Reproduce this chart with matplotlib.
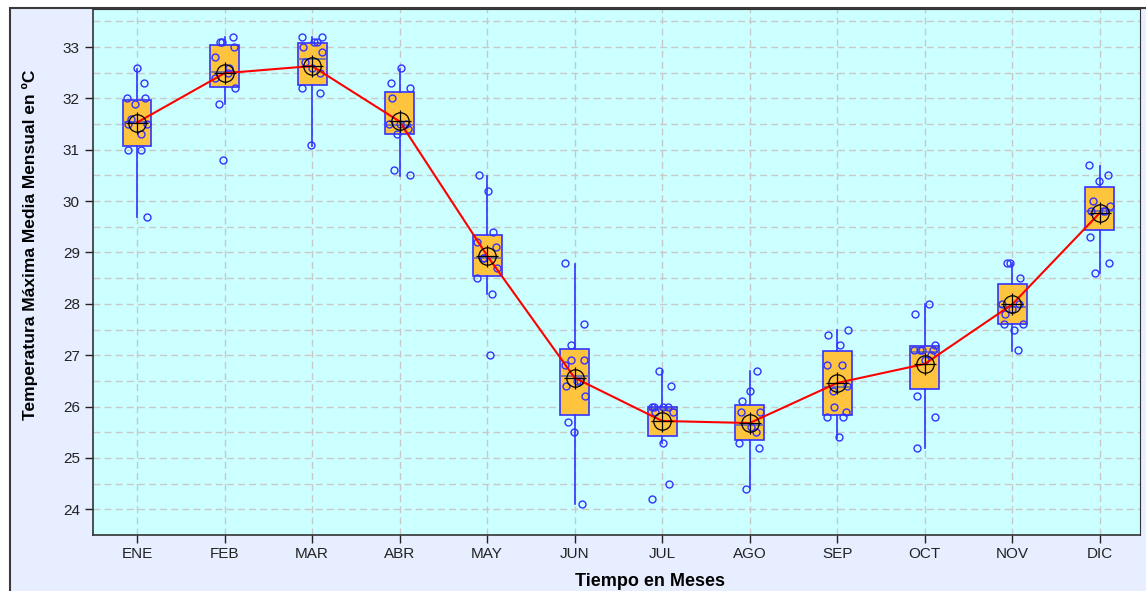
import numpy as np
from matplotlib import pyplot as plt
from matplotlib.patches import Rectangle

plt.rcParams['font.family'] = ['Liberation Sans', 'DejaVu Sans']

# months
meses = ['ENE', 'FEB', 'MAR', 'ABR', 'MAY', 'JUN', 'JUL', 'AGO', 'SEP', 'OCT', 'NOV', 'DIC']

# box statistics
q1 = [31.07, 32.23, 32.26, 31.31, 28.54, 25.83, 25.43, 25.35, 25.83, 26.35, 27.60, 29.43]
med = [31.54, 32.51, 32.77, 31.49, 28.89, 26.60, 25.95, 25.64, 26.39, 27.06, 27.94, 29.80]
q3 = [31.97, 33.04, 33.07, 32.12, 29.34, 27.12, 25.99, 26.04, 27.09, 27.17, 28.39, 30.28]
whislo = [29.70, 31.89, 31.07, 30.49, 28.20, 24.10, 25.30, 24.41, 25.39, 25.19, 27.09, 28.60]
whishi = [32.57, 33.19, 33.20, 32.57, 30.48, 28.78, 26.70, 26.70, 27.49, 28.00, 28.79, 30.68]
media = [31.53, 32.49, 32.63, 31.55, 28.94, 26.56, 25.72, 25.68, 26.46, 26.83, 27.99, 29.77]

# yearly observations
obs = [
    [32.6, 32.3, 32.0, 32.0, 31.9, 31.6, 31.5, 31.5, 31.3, 31.0, 31.0, 29.7],
    [33.2, 33.1, 33.1, 33.0, 32.8, 32.6, 32.5, 32.4, 32.2, 31.9, 30.8],
    [33.2, 33.2, 33.1, 33.1, 33.0, 32.9, 32.7, 32.6, 32.5, 32.2, 32.1, 31.1],
    [32.6, 32.3, 32.2, 32.0, 31.5, 31.5, 31.5, 31.4, 31.3, 30.6, 30.5],
    [30.5, 30.2, 29.4, 29.2, 29.1, 28.9, 28.9, 28.7, 28.5, 28.2, 27.0],
    [28.8, 27.6, 27.2, 26.9, 26.9, 26.8, 26.5, 26.5, 26.4, 26.2, 25.7, 25.5, 24.1],
    [26.7, 26.4, 26.0, 26.0, 26.0, 26.0, 25.9, 25.9, 25.3, 24.5, 24.2],
    [26.7, 26.3, 26.1, 25.9, 25.9, 25.6, 25.5, 25.3, 25.2, 24.4],
    [27.5, 27.4, 27.2, 26.8, 26.8, 26.4, 26.3, 26.0, 25.9, 25.8, 25.8, 25.4],
    [28.0, 27.8, 27.2, 27.1, 27.1, 27.1, 27.1, 27.0, 26.9, 26.2, 25.8, 25.2],
    [28.8, 28.8, 28.5, 28.0, 28.0, 27.9, 27.8, 27.6, 27.6, 27.5, 27.1],
    [30.7, 30.5, 30.4, 30.0, 29.9, 29.8, 29.8, 29.8, 29.3, 28.8, 28.6],
]

W, H = 1146, 591
fig = plt.figure(figsize=(W / 100, H / 100), dpi=100, facecolor='white')

# lavender panel with dark frame
fig.patches.append(Rectangle((10 / W, -0.05), 1.1, (H - 8) / H + 0.05,
                             transform=fig.transFigure, facecolor='#e6eeff',
                             edgecolor='#3a3a3a', linewidth=1.5, zorder=-10))

ax = fig.add_axes([93 / W, (H - 535) / H, (1140 - 93) / W, (535 - 9) / H])
ax.set_facecolor('#ccffff')

x = np.arange(1, len(meses) + 1)

stats = []
for i in range(len(meses)):
    stats.append(dict(q1=q1[i], med=med[i], q3=q3[i], whislo=whislo[i],
                      whishi=whishi[i], fliers=[]))
ax.bxp(stats, positions=x, widths=0.33, patch_artist=True, showcaps=False,
       boxprops=dict(facecolor='#ffc43d', edgecolor='#3333ff', linewidth=1.2),
       whiskerprops=dict(color='#3333ff', linewidth=1.2),
       medianprops=dict(color='#6a6aa8', linewidth=1.2),
       manage_ticks=False, zorder=3)

# observations, spread sideways a little
for i, vals in enumerate(obs):
    n = len(vals)
    jit = 0.12 * np.sin(np.arange(n) * 2.4 + i)
    ax.plot(x[i] + jit, vals, 'o', ms=5, mfc='none', mec='#3333ff', mew=1.0, zorder=4)

ax.plot(x, media, color='red', lw=1.5, zorder=5)
ax.plot(x, media, 'o', ms=12.5, mfc='none', mec='black', mew=0.9, zorder=6)
ax.plot(x, media, '+', ms=16, mec='black', mew=0.9, zorder=6)

ax.set_xlim(0.497, 12.46)
ax.set_ylim(23.55, 33.74)
ax.set_xticks(x)
ax.set_xticklabels(meses)
ax.set_yticks(np.arange(24, 34))
ax.set_yticks(np.arange(23.5, 34, 1.0), minor=True)
ax.tick_params(axis='y', which='minor', length=0)
ax.tick_params(axis='both', which='major', labelsize=11, colors='#222222',
               length=6, width=1.0)
ax.tick_params(axis='x', pad=3)
ax.grid(True, which='both', color='#c8c8c8', linestyle=(0, (5, 3)), linewidth=1.0)
ax.set_axisbelow(True)
for s in ['top', 'right']:
    ax.spines[s].set_color('#333333')
for s in ['left', 'bottom']:
    ax.spines[s].set_color('#333333')
    ax.spines[s].set_linewidth(1.2)

fig.text(650 / W, 1 - 581 / H, 'Tiempo en Meses', ha='center', va='center',
         fontsize=13, fontweight='bold',
         family=['Liberation Sans Narrow', 'Liberation Sans', 'DejaVu Sans'])
fig.text(30 / W, 1 - 245 / H, 'Temperatura Máxima Media Mensual en ºC', ha='center',
         va='center', rotation=90, fontsize=12.5, fontweight='bold',
         family=['Liberation Sans Narrow', 'Liberation Sans', 'DejaVu Sans'])

fig.savefig('out.png', dpi=100, facecolor='white')
